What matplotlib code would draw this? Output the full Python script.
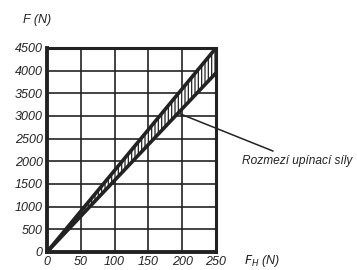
import numpy as np
import matplotlib.pyplot as plt

# force range
fh = [0, 250]
f_upper = [0, 4500]
f_lower = [0, 3950]

x_ticks = [0, 50, 100, 150, 200, 250]
y_ticks = [0, 500, 1000, 1500, 2000, 2500, 3000, 3500, 4000, 4500]

plt.rcParams['font.family'] = ['Liberation Sans', 'DejaVu Sans']
plt.rcParams['font.style'] = 'italic'
plt.rcParams['mathtext.default'] = 'it'
plt.rcParams['hatch.linewidth'] = 0.9

fig = plt.figure(figsize=(3.57, 2.70), dpi=100)
ax = fig.add_axes([47 / 357, 18 / 270, 169 / 357, 204 / 270])

ax.set_xlim(0, 250)
ax.set_ylim(0, 4500)
ax.set_xticks(x_ticks)
ax.set_yticks(y_ticks)
ax.grid(True, color='#222222', linewidth=1.2)
ax.set_axisbelow(True)

ax.fill_between(fh, f_lower, f_upper, facecolor='white', edgecolor='#222222',
                hatch='|||||', linewidth=0)
ax.plot(fh, f_upper, color='#222222', linewidth=2.6, solid_capstyle='butt')
ax.plot(fh, f_lower, color='#222222', linewidth=2.6, solid_capstyle='butt')

for side in ax.spines.values():
    side.set_linewidth(2.2)
    side.set_color('#222222')
ax.spines['left'].set_linewidth(2.8)
ax.spines['bottom'].set_linewidth(2.8)

ax.tick_params(length=0, pad=3, labelsize=9, colors='#222222')

ax.annotate('Rozmezí upínací síly', xy=(194, 3065), xytext=(289, 2010),
            textcoords='data', annotation_clip=False,
            fontsize=8.6, color='#222222', va='center', ha='left',
            arrowprops=dict(arrowstyle='-', color='#222222', linewidth=1.1,
                            shrinkA=2, shrinkB=0))

fig.text(23 / 357, 1 - 20 / 270, 'F (N)', fontsize=9,
         color='#222222', va='center', ha='left')
fig.text(244 / 357, 1 - 261 / 270, r'$F_H$ (N)', fontsize=9,
         color='#222222', va='center', ha='left')

fig.savefig('out.png', dpi=100)
